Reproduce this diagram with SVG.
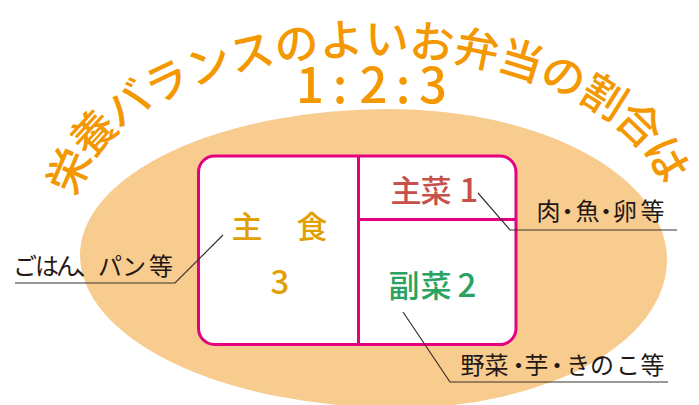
<svg xmlns="http://www.w3.org/2000/svg" width="699" height="405" viewBox="0 0 699 405">
  <style>
    .jp { font-family: "Noto Sans CJK JP", "Noto Sans", sans-serif; }
    .title { font-size: 44px; font-weight: 500; fill: #F39800; letter-spacing: 1.7px; }
    .ratio { font-size: 49px; font-weight: 500; fill: #F39800; }
    .box { fill: #FFFFFF; stroke: #E4007F; stroke-width: 3; }
    .div { stroke: #E4007F; stroke-width: 3; fill: none; }
    .cell { font-size: 31px; font-weight: 500; }
    .digit { font-size: 33px; font-weight: 500; }
    .label { font-size: 24px; font-weight: 400; fill: #231815; }
    .leader { fill: none; stroke: #3A302C; stroke-width: 1.2; }
  </style>
  <defs>
    <path id="titleArc" d="M 58 209 A 313 173 0 0 1 684 209"/>
  </defs>

  <g id="plate">
    <path d="M 80 255 A 310 146 0 0 1 390 109 A 277 151 0 0 1 667 260 A 267 148 0 0 1 400 408 A 320 153 0 0 1 80 255 Z" fill="#F8CB8E"/>
  </g>

  <g id="title">
    <text class="jp title" text-anchor="middle" dominant-baseline="central"><textPath href="#titleArc" startOffset="384">栄養バランスのよいお弁当の割合は</textPath></text>
    <text class="jp ratio" x="310 340 373.5 403 433" y="103" text-anchor="middle">1:2:3</text>
  </g>

  <g id="bento">
    <rect class="box" x="198.5" y="156" width="317.5" height="188.5" rx="16" ry="16"/>
    <line class="div" x1="358.5" y1="156" x2="358.5" y2="344.5"/>
    <line class="div" x1="358.5" y1="219.5" x2="516" y2="219.5"/>
  </g>

  <g id="shushoku">
    <text class="jp cell" x="247 279.5 312" y="224" fill="#E0A100" text-anchor="middle" dominant-baseline="central">主　食</text>
    <text class="jp digit" x="280" y="279.5" fill="#E0A100" text-anchor="middle" dominant-baseline="central">3</text>
  </g>

  <g id="shusai">
    <text class="jp" y="187.5" fill="#C8504A" text-anchor="middle" dominant-baseline="central"><tspan class="cell" x="406">主</tspan><tspan class="cell" x="436">菜</tspan><tspan class="digit" x="469">1</tspan></text>
  </g>

  <g id="fukusai">
    <text class="jp" y="282.5" fill="#2BA25F" text-anchor="middle" dominant-baseline="central"><tspan class="cell" x="404">副</tspan><tspan class="cell" x="436">菜</tspan><tspan class="digit" x="467">2</tspan></text>
  </g>

  <g id="label-shushoku">
    <text class="jp label" x="25 47 68 88 110 134 161" y="264" text-anchor="middle" dominant-baseline="central">ごはん、パン等</text>
  </g>

  <g id="label-shusai">
    <text class="jp label" x="548.5 567.5 587.5 606 625 652.5" y="209.5" text-anchor="middle" dominant-baseline="central">肉・魚・卵等</text>
  </g>

  <g id="label-fukusai">
    <text class="jp label" x="472.5 496.5 518.5 536.5 557 578 602 628 652.5" y="363.5" text-anchor="middle" dominant-baseline="central">野菜・芋・きのこ等</text>
  </g>

  <g id="connectors">
    <polyline class="leader" points="15,283 175,283 223,235"/>
    <polyline class="leader" points="478,193 510,230 677,230"/>
    <polyline class="leader" points="403,312 450,382 668,382"/>
  </g>
</svg>
